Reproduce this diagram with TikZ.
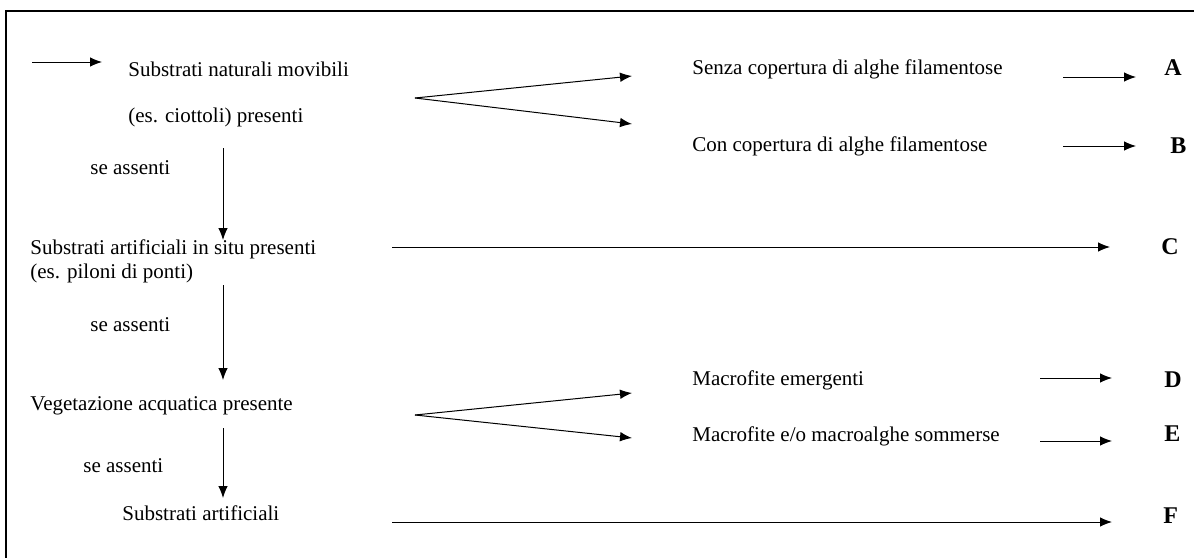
\documentclass[tikz,border=0pt]{standalone}
\usepackage{fontspec}
\setmainfont{Liberation Serif}
\usetikzlibrary{arrows.meta}
\tikzstyle{txt}=[anchor=west, inner sep=0pt, font=\fontsize{10.5}{12}\selectfont]
\tikzstyle{lett}=[anchor=west, inner sep=0pt, font=\fontsize{12}{14}\selectfont\bfseries]
\tikzstyle{ed}=[-{Latex[length=6pt,width=4.8pt]}, draw=black, line width=0.5pt]
\tikzstyle{frame}=[draw=black, line width=1.3pt]

\begin{document}
\begin{tikzpicture}[x=0.5pt, y=-0.5pt]
	\useasboundingbox (0,0) rectangle (1194,557);
	\draw [style=frame] (6,570) -- (6,11) -- (1210,11);
	% left column
	\node [style=txt] (0) at (128,69) {Substrati naturali movibili};
	\node [style=txt] (1) at (128,117) {(es. ciottoli) presenti};
	\node [style=txt] (2) at (90,168) {se assenti};
	\node [style=txt] (3) at (30,249) {Substrati artificiali in situ presenti};
	\node [style=txt] (4) at (30,273) {(es. piloni di ponti)};
	\node [style=txt] (5) at (90,325) {se assenti};
	\node [style=txt] (6) at (30,406) {Vegetazione acquatica presente};
	\node [style=txt] (7) at (83,466) {se assenti};
	\node [style=txt] (8) at (122,513) {Substrati artificiali};
	% right column
	\node [style=txt] (9) at (692,69) {Senza copertura di alghe filamentose};
	\node [style=txt] (10) at (692,146) {Con copertura di alghe filamentose};
	\node [style=txt] (11) at (692,380) {Macrofite emergenti};
	\node [style=txt] (12) at (692,436) {Macrofite e/o macroalghe sommerse};
	% letters
	\node [style=lett] (13) at (1164,68) {A};
	\node [style=lett] (14) at (1170,146) {B};
	\node [style=lett] (15) at (1161,247) {C};
	\node [style=lett] (16) at (1164,380) {D};
	\node [style=lett] (17) at (1164,434) {E};
	\node [style=lett] (18) at (1163,516) {F};
	% arrow ends
	\coordinate (a0) at (32,62);
	\coordinate (a1) at (102,62);
	\coordinate (f1) at (415,98);
	\coordinate (f1a) at (632,76);
	\coordinate (f1b) at (632,124);
	\coordinate (f2) at (415,415);
	\coordinate (f2a) at (632,393);
	\coordinate (f2b) at (632,438);
	\coordinate (v1a) at (223,148);
	\coordinate (v1b) at (223,240);
	\coordinate (v2a) at (223,285);
	\coordinate (v2b) at (223,380);
	\coordinate (v3a) at (223,428);
	\coordinate (v3b) at (223,498);
	\coordinate (pA) at (1063,77);
	\coordinate (qA) at (1136,77);
	\coordinate (pB) at (1063,146);
	\coordinate (qB) at (1136,146);
	\coordinate (pC) at (392,247);
	\coordinate (qC) at (1110,247);
	\coordinate (pD) at (1040,378);
	\coordinate (qD) at (1112,378);
	\coordinate (pE) at (1040,441);
	\coordinate (qE) at (1112,441);
	\coordinate (pF) at (392,522);
	\coordinate (qF) at (1112,522);
	\draw [style=ed] (a0) to (a1);
	\draw [style=ed] (f1) to (f1a);
	\draw [style=ed] (f1) to (f1b);
	\draw [style=ed] (f2) to (f2a);
	\draw [style=ed] (f2) to (f2b);
	\draw [style=ed] (v1a) to (v1b);
	\draw [style=ed] (v2a) to (v2b);
	\draw [style=ed] (v3a) to (v3b);
	\draw [style=ed] (pA) to (qA);
	\draw [style=ed] (pB) to (qB);
	\draw [style=ed] (pC) to (qC);
	\draw [style=ed] (pD) to (qD);
	\draw [style=ed] (pE) to (qE);
	\draw [style=ed] (pF) to (qF);
\end{tikzpicture}
\end{document}
